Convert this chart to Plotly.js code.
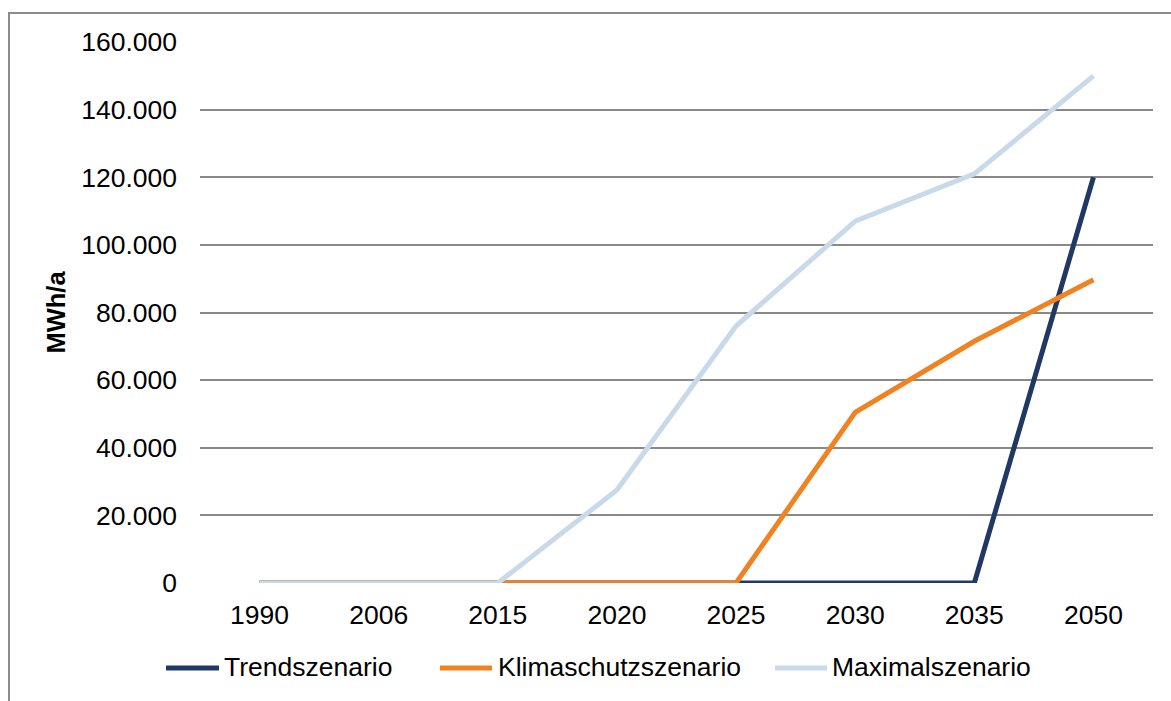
<!DOCTYPE html>
<html>
<head>
<meta charset="utf-8">
<script src="https://cdn.plot.ly/plotly-3.0.1.min.js"></script>
<style>
html, body { margin:0; padding:0; background:#fff; overflow:hidden; }
#chart { width:1171px; height:701px; position:absolute; left:0; top:0; }
#frame { position:absolute; left:8px; top:12px; width:2000px; height:2000px;
  border-left:2px solid #8c8c8c; border-top:2px solid #8c8c8c; pointer-events:none; }
</style>
</head>
<body>
<div id="chart"></div>
<div id="frame"></div>
<script>
const years = ["1990", "2006", "2015", "2020", "2025", "2030", "2035", "2050"];
const trendszenario = [0, 0, 0, 0, 0, 0, 0, 120000];
const klimaschutzszenario = [0, 0, 0, 0, 0, 50500, 71500, 89700];
const maximalszenario = [0, 0, 0, 27500, 76000, 107000, 121000, 150000];
const seriesNames = ["Trendszenario", "Klimaschutzszenario", "Maximalszenario"];
const seriesColors = ["#1F3864", "#F08222", "#C8DAEA"];
const yTicks = [0, 20000, 40000, 60000, 80000, 100000, 120000, 140000, 160000];
const yTickText = ["0", "20.000", "40.000", "60.000", "80.000", "100.000", "120.000", "140.000", "160.000"];

const font = "'Liberation Sans', Arial, sans-serif";
const W = 1171, H = 701;
const M = {l: 200, r: 18, t: 42, b: 118};
const pw = W - M.l - M.r, ph = H - M.t - M.b;
const px = v => (v - M.l) / pw;   // page pixel -> paper x
const py = v => (H - M.b - v) / ph; // page pixel -> paper y

const series = [trendszenario, klimaschutzszenario, maximalszenario];
const traces = series.map((s, i) => ({
  x: years, y: s, name: seriesNames[i], type: "scatter", mode: "lines",
  line: {color: seriesColors[i], width: 5}, showlegend: false
}));

// manual legend (positions in page pixels)
const legLineX = [[166, 219], [440, 492], [775, 827]];
const legTextX = [222, 496, 830];
const legY = 668;
const shapes = legLineX.map((p, i) => ({
  type: "line", xref: "paper", yref: "paper",
  x0: px(p[0]), x1: px(p[1]), y0: py(legY), y1: py(legY),
  line: {color: seriesColors[i], width: 5}
}));
const annotations = seriesNames.map((n, i) => ({
  text: n, xref: "paper", yref: "paper", x: px(legTextX[i]), y: py(legY - 1),
  xanchor: "left", yanchor: "middle", showarrow: false,
  font: {family: font, size: 26.5, color: "#000"}
}));

const layout = {
  width: W, height: H,
  margin: M,
  paper_bgcolor: "#fff", plot_bgcolor: "#fff",
  font: {family: font, size: 26.5, color: "#000"},
  showlegend: false,
  shapes: shapes,
  annotations: annotations,
  xaxis: {type: "category", categoryorder: "array", categoryarray: years,
          range: [-0.5, 7.5], showgrid: false, zeroline: false, showline: false,
          ticks: "", tickfont: {family: font, size: 26.5}, ticklabelstandoff: 13, fixedrange: true},
  yaxis: {range: [0, 160000], tickvals: yTicks, ticktext: yTickText, showgrid: true,
          gridcolor: "#898989", gridwidth: 2, zeroline: false, showline: false, ticks: "",
          tickfont: {family: font, size: 26.5}, ticklabelstandoff: 22,
          title: {text: "<b>MWh/a</b>", font: {family: font, size: 25.5}, standoff: 8}, fixedrange: true}
};
Plotly.newPlot("chart", traces, layout, {displayModeBar: false, staticPlot: true});
</script>
</body>
</html>
